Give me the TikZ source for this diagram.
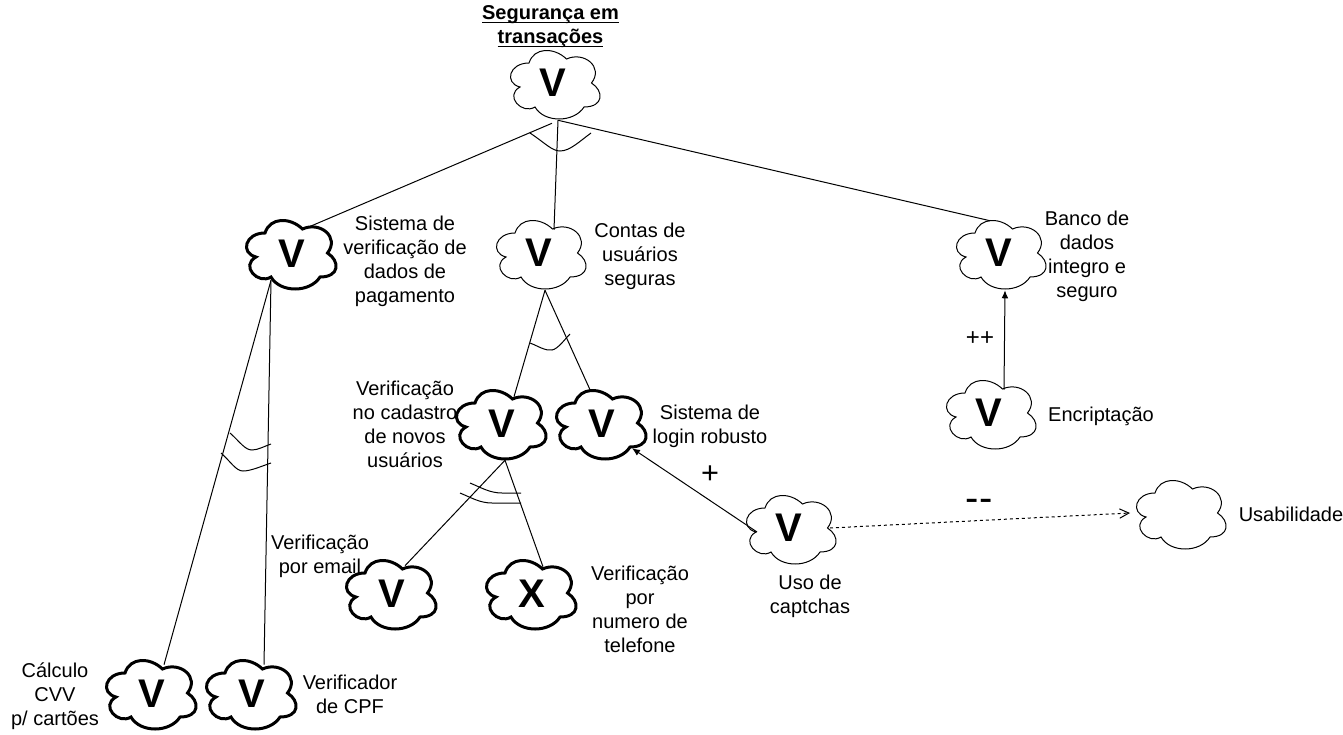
\documentclass[tikz,border=0pt]{standalone}
\usepackage{fontspec}
\setmainfont{Liberation Sans}
\usetikzlibrary{arrows.meta}
\newcommand{\titleline}[1]{\setbox0\hbox{#1}\rlap{\rule[-2.4pt]{\wd0}{1.1pt}}\box0}
\begin{document}
\begin{tikzpicture}[
    x=0.75pt, y=-0.75pt,
    lbl/.style={font=\fontsize{15}{18}\selectfont, align=center},
    letterbox/.style={font=\fontsize{30}{30}\selectfont\bfseries, minimum width=67.5pt, minimum height=52.5pt, inner sep=0pt},
    link/.style={line width=0.75pt},
    bow/.style={line width=0.75pt},
    cloudline/.pic={
      \draw[pic actions] (25,20)
        .. controls (5,20) and (0,40) .. (16,44)
        .. controls (0,52.8) and (18,72) .. (31,64)
        .. controls (40,80) and (70,80) .. (80,64)
        .. controls (100,64) and (100,48) .. (87.5,40)
        .. controls (100,24) and (80,8) .. (62.5,16)
        .. controls (50,4) and (30,4) .. (25,20) -- cycle;
    },
  ]
    \useasboundingbox (0,0) rectangle (1343,735);

    %% --- thin clouds ---
    \foreach \name/\cx/\cy/\letter in {top/510/50/V, acc/496/220/V, bank/956/220/V, enc/946/380/V, cap/746/495/V, usa/1136/480/{}} {
      \pic[line width=0.75pt] at (\cx-6,\cy-7) {cloudline};
      \node[letterbox] (\name) at (\cx+43,\cy+33) {\letter};
    }
    %% --- bold clouds ---
    \foreach \name/\cx/\cy/\letter in {pay/246/220/V, cad/456/390/V, log/556/390/V, mail/346/560/V, tel/486/560/X, cvv/106/660/V, cpf/206/660/V} {
      \pic[line width=2.25pt] at (\cx-6,\cy-7) {cloudline};
      \node[letterbox] (\name) at (\cx+46,\cy+34) {\letter};
    }

    %% --- texts ---
    \node[lbl, font=\fontsize{15}{18}\selectfont\bfseries] (title) at (550.5,27) {\titleline{Segurança em}\\\titleline{transações}};
    \node[lbl] (tpay) at (405,261) {Sistema de\\verificação de\\dados de\\pagamento};
    \node[lbl] (tacc) at (640,256) {Contas de\\usuários\\seguras};
    \node[lbl] (tbank) at (1087,256) {Banco de\\dados\\integro e\\seguro};
    \node[lbl] (tenc) at (1101,416) {Encriptação};
    \node[lbl] (tlog) at (710,426) {Sistema de\\login robusto};
    \node[lbl] (tcad) at (405,424) {Verificação\\no cadastro\\de novos\\usuários};
    \node[lbl] (tmail) at (320,556) {Verificação\\por email};
    \node[lbl] (ttel) at (640,609) {Verificação\\por\\numero de\\telefone};
    \node[lbl] (tcap) at (810,596) {Uso de\\captchas};
    \node[lbl] (tcvv) at (55,696) {Cálculo\\CVV\\p/ cartões};
    \node[lbl] (tcpf) at (350,694) {Verificador\\de CPF};
    \node[lbl] (tusa) at (1291,514) {Usabilidade};
    \node[lbl, font=\fontsize{18}{18}\selectfont] (pp) at (980,339) {++};
    \node[lbl, font=\fontsize{23}{23}\selectfont] (plus) at (710,475) {+};
    \node[lbl, font=\fontsize{30}{30}\selectfont] (minus) at (979,505) {-{}-};

    %% --- connectors ---
    \draw[link] ([shift={(-1,5)}]top.south) -- ([shift={(15,9)}]pay.north);
    \draw[link] ([shift={(5,2)}]top.south) -- ([shift={(15,12)}]acc.north);
    \draw[link] ([shift={(5,2)}]top.south) -- ([shift={(-9,3)}]bank.north);
    \draw[link] ([shift={(-21,-9)}]pay.south) -- ([shift={(12,6)}]cvv.north);
    \draw[link] ([shift={(-21,-9)}]pay.south) -- ([shift={(12,6)}]cpf.north);
    \draw[link] ([shift={(6,2)}]acc.south) -- ([shift={(12,8)}]cad.north);
    \draw[link] ([shift={(6,2)}]acc.south) -- ([shift={(-12,1)}]log.north);
    \draw[link] ([shift={(3,1)}]cad.south) -- ([shift={(13,7)}]mail.north);
    \draw[link] ([shift={(3,1)}]cad.south) -- ([shift={(11,8)}]tel.north);
    \draw[link, -{Latex[length=6pt,width=5pt]}] ([shift={(15,12)}]enc.north) -- ([shift={(6,2)}]bank.south);
    \draw[link, -{Latex[length=6pt,width=5pt]}] ([shift={(-32,4)}]cap.center) -- ([shift={(30,-11)}]log.south);
    \draw[link, dash pattern=on 2.25pt off 2.25pt, -{Straight Barb[length=7pt,width=7pt]}] ([shift={(41,0)}]cap.center) -- ([shift={(-49,0)}]usa.center);

    %% --- and/or bows ---
    \draw[bow] (530,133) .. controls (545,143) and (552,151) .. (560,151) .. controls (570,151) and (580,141) .. (591,133);
    \draw[bow] (530,343) .. controls (538,346) and (545,351) .. (552,350) .. controls (558,349) and (565,339) .. (570,334);
    \draw[bow] (230,433) .. controls (240,442) and (245,450) .. (252,450) .. controls (258,450) and (265,446) .. (271,444);
    \draw[bow] (221,453) .. controls (231,462) and (236,471) .. (243,471) .. controls (251,471) and (262,466) .. (271,463);
    \draw[bow] (470,483) .. controls (482,488) and (490,493) .. (502,493) -- (521,493);
    \draw[bow] (460,493) .. controls (472,498) and (480,503) .. (492,503) -- (521,503);
\end{tikzpicture}
\end{document}
